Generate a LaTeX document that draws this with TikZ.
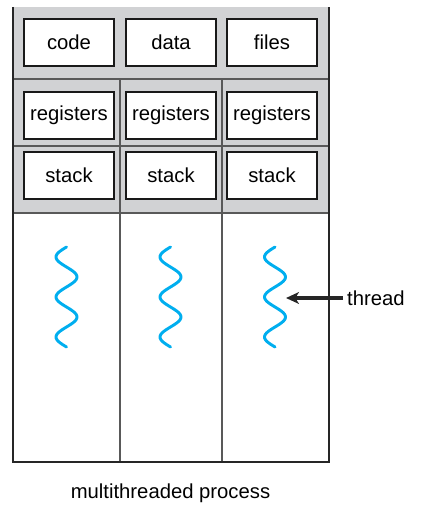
\documentclass[tikz,border=0pt]{standalone}
\usepackage{fontspec}
\setmainfont{Liberation Sans}
\usetikzlibrary{positioning}
\usetikzlibrary{arrows.meta}
\definecolor{headgray}{RGB}{209,210,212}
\definecolor{threadblue}{RGB}{0,174,239}
\tikzset{
    seg/.style = {rectangle, draw=black!90, line width=0.9pt, fill=white, minimum width=2.7cm, minimum height=1.41cm, inner sep=0pt},
    wall/.style = {draw=black!85, line width=0.9pt},
    divider/.style = {draw=black!65, line width=0.9pt},
    thread/.style = {draw=threadblue, line width=2.5pt, line cap=round},
    edgen/.style = {-{Stealth[length=11pt,width=10pt,inset=3pt]}, line width=2.6pt, draw=black!85},
    every node/.style = {font=\fontsize{17.3}{20}\selectfont}
}

\begin{document}
\begin{tikzpicture}[x=0.03cm, y=-0.03cm]
\useasboundingbox (0,0) rectangle (429,516);
%
\fill[headgray] (13,7) rectangle (329,213);
\draw[divider] (13,79) -- (329,79);
\draw[divider] (13,146) -- (329,146);
\draw[divider] (13,213) -- (329,213);
\draw[divider] (120,79) -- (120,462);
\draw[divider] (222,79) -- (222,462);
\draw[wall] (13,7) -- (13,462) -- (329,462) -- (329,7);
%
\node[seg] at (69,42.5) (code) {code};
\node[seg] at (171,42.5) (data) {data};
\node[seg] at (272,42.5) (files) {files};
\node[seg] at (69,115.5) (rega) {registers};
\node[seg] at (171,115.5) (regb) {registers};
\node[seg] at (272,115.5) (regc) {registers};
\node[seg] at (69,175.5) (stacka) {stack};
\node[seg] at (171,175.5) (stackb) {stack};
\node[seg] at (272,175.5) (stackc) {stack};
%
\foreach \c in {66.5,170.5,275}
    \draw[thread] plot[domain=247:347, samples=80, variable=\t] ({\c-10.5*cos(9*(\t-257))}, \t);
%
\coordinate (tip) at (286,298);
\node[anchor=west] at (343,298) (threadlabel) {thread};
\draw[edgen] (threadlabel.west) -- (tip);
%
\node at (170.5,493) (caption) {multithreaded process};

\end{tikzpicture}
\end{document}
